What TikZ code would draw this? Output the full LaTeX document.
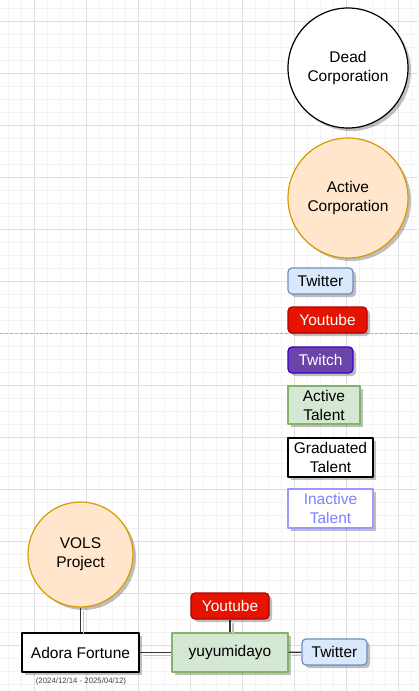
\documentclass[tikz,border=0pt]{standalone}
\usepackage{fontspec}
\setmainfont{Liberation Sans}
\usetikzlibrary{shadows}
\definecolor{gridminor}{HTML}{F3F3F3}
\definecolor{gridmajor}{HTML}{E0E0E0}
\definecolor{twfill}{HTML}{DAE8FC}
\definecolor{twline}{HTML}{6C8EBF}
\definecolor{ytfill}{HTML}{E51400}
\definecolor{ytline}{HTML}{B20000}
\definecolor{tchfill}{HTML}{6A44A8}
\definecolor{tchline}{HTML}{3700CC}
\definecolor{talfill}{HTML}{D5E8D4}
\definecolor{talline}{HTML}{82B366}
\definecolor{corpfill}{HTML}{FFE6CC}
\definecolor{corpline}{HTML}{D79B00}
\definecolor{inline}{HTML}{9999FF}
\definecolor{intext}{HTML}{7F7FFF}
\tikzset{
  shade3/.style={drop shadow={shadow xshift=3pt, shadow yshift=-3pt, opacity=0.25, fill=black}},
  base/.style={shade3, line width=1.2pt, align=center, inner sep=0pt,
    font=\fontsize{15.5}{19}\selectfont},
  corp/.style={base, circle, minimum size=120pt},
  social/.style={base, rectangle, rounded corners=4pt, minimum height=26pt},
  talent/.style={base, rectangle, minimum height=39pt},
  link/.style={line width=1.2pt, black!80,
    preaction={draw=black!25, line width=1.2pt, transform canvas={shift={(3pt,-3pt)}}}}
}
\begin{document}
\begin{tikzpicture}[x=1pt, y=-1pt, line join=round]
	\useasboundingbox (0,0) rectangle (418,691);
	\fill[white] (0,0) rectangle (418,691);
	\foreach \i in {0,...,31} {
		\pgfmathsetmacro{\x}{8.3+13*\i}
		\draw[gridminor, line width=0.8pt] (\x,0) -- (\x,691);
	}
	\foreach \i in {0,...,52} {
		\pgfmathsetmacro{\y}{8.3+13*\i}
		\draw[gridminor, line width=0.8pt] (0,\y) -- (418,\y);
	}
	\foreach \i in {0,...,7} {
		\pgfmathsetmacro{\x}{34.3+52*\i}
		\draw[gridmajor, line width=0.9pt] (\x,0) -- (\x,691);
	}
	\foreach \i in {0,...,12} {
		\pgfmathsetmacro{\y}{21.3+52*\i}
		\draw[gridmajor, line width=0.9pt] (0,\y) -- (418,\y);
	}
	\draw[black!30, line width=0.8pt, dash pattern=on 3pt off 2pt] (0,333) -- (418,333);

	% legend
	\node[corp, draw=black, fill=white] (deadcorp) at (348,68) {Dead\\Corporation};
	\node[corp, draw=corpline, fill=corpfill] (activecorp) at (348,198) {Active\\Corporation};
	\node[social, draw=twline, fill=twfill, minimum width=65pt] (legtw) at (320.5,281) {Twitter};
	\node[social, draw=ytline, fill=ytfill, text=white, minimum width=79pt] (legyt) at (327.5,320) {Youtube};
	\node[social, draw=tchline, fill=tchfill, text=white, minimum width=65pt] (legtch) at (320.5,360) {Twitch};
	\node[talent, draw=talline, fill=talfill, minimum width=72pt, minimum height=38pt] (legact) at (324,405) {Active\\Talent};
	\node[talent, draw=black, fill=white, minimum width=85pt] (leggrad) at (330.5,457.5) {Graduated\\Talent};
	\node[talent, draw=inline, fill=white, text=intext, minimum width=85pt] (leginact) at (330.5,508.5) {Inactive\\Talent};

	% tree
	\node[corp, draw=corpline, fill=corpfill, minimum size=105pt] (vols) at (80.5,554.5) {VOLS\\Project};
	\node[talent, draw=black, fill=white, minimum width=117pt] (adora) at (80.5,652.5) {Adora Fortune};
	\node[font=\fontsize{7.8}{9}\selectfont, text=black!75, inner sep=0pt] (adoradate) at (81,681) {(2024/12/14 - 2025/04/12)};
	\node[talent, draw=talline, fill=talfill, minimum width=116pt] (yuyu) at (230,652.5) {yuyumidayo};
	\node[social, draw=ytline, fill=ytfill, text=white, minimum width=78pt] (yuyuyt) at (230,606) {Youtube};
	\node[social, draw=twline, fill=twfill, minimum width=65pt] (yuyutw) at (334.5,652) {Twitter};

	\draw[link] (vols) -- (adora);
	\draw[link] (adora) -- (yuyu);
	\draw[link] (yuyu) -- (yuyuyt);
	\draw[link] (yuyu) -- (yuyutw);
\end{tikzpicture}
\end{document}
